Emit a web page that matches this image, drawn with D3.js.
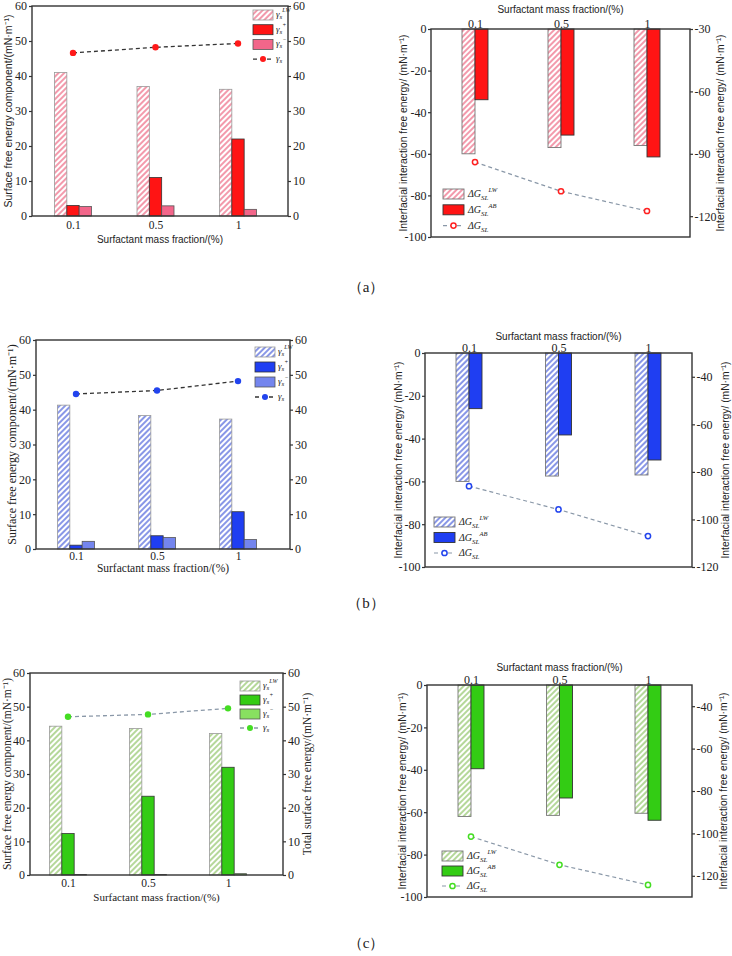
<!DOCTYPE html>
<html><head><meta charset="utf-8">
<script src="https://cdn.jsdelivr.net/npm/d3@7"></script>
<style>body{margin:0;background:#fff} svg{display:block}</style>
</head><body>
<script>
// ---------- data ----------
const categories = ["0.1", "0.5", "1"];
// (a)
const aLW = [41, 37, 36.2];
const aPlus = [3, 11, 22];
const aMinus = [2.7, 2.9, 1.9];
const aTotal = [46.6, 48.2, 49.3];
const aGLW = [-60, -57, -56];
const aGAB = [-34, -51, -61.5];
const aGSL = [-94, -108, -117.5];
// (b)
const bLW = [41.3, 38.3, 37.3];
const bPlus = [1.1, 3.8, 10.7];
const bMinus = [2.2, 3.3, 2.7];
const bTotal = [44.5, 45.5, 48.2];
const bGLW = [-60, -57.5, -57];
const bGAB = [-26, -38.3, -50];
const bGSL = [-86, -95.8, -107];
// (c)
const cLW = [44.2, 43.5, 42];
const cPlus = [12.3, 23.4, 32];
const cMinus = [0.15, 0.15, 0.4];
const cTotal = [47, 47.7, 49.5];
const cGLW = [-62, -61.5, -60.5];
const cGAB = [-39.5, -53.3, -63.8];
const cGSL = [-101.5, -114.8, -124.3];
// ticks
const compTicks = [0, 10, 20, 30, 40, 50, 60];
const gLeftTicks = [0, -20, -40, -60, -80, -100];
const gRightTicksA = [-30, -60, -90, -120];
const gRightTicksBC = [-40, -60, -80, -100, -120];
const captions = ["（a）", "（b）", "（c）"];
const xTitle = "Surfactant mass fraction/(%)";
const compTitle = "Surface free energy component/(mN·m⁻¹)";
const totalTitle = "Total surface free energy/(mN·m⁻¹)";
const gTitle = "Interfacial interaction free energy/ (mN·m⁻¹)";

// ---------- drawing ----------
const SERIF = "'Liberation Serif','Times New Roman',serif";
const SANS = "'Liberation Sans',Arial,sans-serif";
const fmt = d => String(d);
const svg = d3.select("body").append("svg").attr("width", 732).attr("height", 956);
const defs = svg.append("defs");
function hatch(id, color) {
  const p = defs.append("pattern").attr("id", id).attr("patternUnits", "userSpaceOnUse")
    .attr("width", 4).attr("height", 4).attr("patternTransform", "rotate(45)");
  p.append("rect").attr("width", 4).attr("height", 4).attr("fill", "#fff");
  p.append("line").attr("x1", 1).attr("y1", 0).attr("x2", 1).attr("y2", 4)
    .attr("stroke", color).attr("stroke-width", 1.5);
}
hatch("hA", "#f07890");
hatch("hB", "#6274e0");
hatch("hC", "#9ccc78");

function styleAxis(sel, size) {
  sel.attr("font-family", SERIF);
  sel.select(".domain").remove();
  sel.selectAll(".tick line").attr("stroke", "#333").attr("stroke-width", 1.2);
  sel.selectAll(".tick text").attr("font-family", SERIF).attr("font-size", size || 12).attr("fill", "#222");
}

function gammaLabel(t, sup) {
  t.append("tspan").text("γ").attr("font-style", "italic");
  t.append("tspan").text("s").attr("font-style", "italic").attr("font-size", 7).attr("dy", 2);
  if (sup) t.append("tspan").text(sup).attr("font-style", "italic").attr("font-size", 6).attr("dy", -7);
}
function dGLabel(t, sup) {
  t.append("tspan").text("ΔG").attr("font-style", "italic");
  t.append("tspan").text("SL").attr("font-style", "italic").attr("font-size", 7).attr("dy", 3);
  if (sup) t.append("tspan").text(sup).attr("font-style", "italic").attr("font-size", 6.5).attr("dy", -8);
}

function leftPanel(o) {
  const [x0, y0, x1, y1] = o.box;
  const g = svg.append("g");
  const x = d3.scalePoint().domain(categories).range(o.catRange);
  const y = d3.scaleLinear().domain([0, 60]).range([y1, y0]);
  const sub = d3.scaleBand().domain(["lw", "plus", "minus"]).range([-18.5, 18.5]);
  const series = [
    { key: "lw", vals: o.lw, fill: `url(#${o.hatch})`, stroke: "#999" },
    { key: "plus", vals: o.plus, fill: o.plusColor, stroke: "#333" },
    { key: "minus", vals: o.minus, fill: o.minusColor, stroke: "#555" }
  ];
  series.forEach(s => {
    g.selectAll(null).data(categories).enter().append("rect")
      .attr("x", c => x(c) + sub(s.key))
      .attr("width", sub.bandwidth())
      .attr("y", (c, i) => y(s.vals[i]))
      .attr("height", (c, i) => y(0) - y(s.vals[i]))
      .attr("fill", s.fill).attr("stroke", s.stroke).attr("stroke-width", 0.8);
  });
  // frame
  g.append("rect").attr("x", x0).attr("y", y0).attr("width", x1 - x0).attr("height", y1 - y0)
    .attr("fill", "none").attr("stroke", "#333").attr("stroke-width", 1.4);
  styleAxis(g.append("g").attr("transform", `translate(${x0},0)`)
    .call(d3.axisLeft(y).tickValues(compTicks).tickFormat(fmt).tickSize(3).tickPadding(2)), 12);
  styleAxis(g.append("g").attr("transform", `translate(${x1},0)`)
    .call(d3.axisRight(y).tickValues(compTicks).tickFormat(fmt).tickSize(3).tickPadding(2)), 12);
  styleAxis(g.append("g").attr("transform", `translate(0,${y1})`)
    .call(d3.axisBottom(x).tickSize(0).tickPadding(o.xTickPad)), 11.5);
  // total line
  const line = d3.line().x((d, i) => x(categories[i])).y(d => y(d));
  g.append("path").datum(o.total).attr("d", line).attr("fill", "none")
    .attr("stroke", o.lineColor).attr("stroke-width", 1.3).attr("stroke-dasharray", "4,3");
  g.selectAll(null).data(o.total).enter().append("circle")
    .attr("cx", (d, i) => x(categories[i])).attr("cy", d => y(d)).attr("r", 3.2).attr("fill", o.pointColor);
  // titles
  const ff = o.titleFont;
  g.append("text").attr("transform", `translate(${o.yTitleX},${(y0 + y1) / 2}) rotate(-90)`)
    .attr("text-anchor", "middle").attr("font-family", ff).attr("font-size", o.titleSize).attr("fill", "#222")
    .text(compTitle);
  g.append("text").attr("x", (x0 + x1) / 2).attr("y", y1 + o.xTitleDy).attr("text-anchor", "middle")
    .attr("font-family", ff).attr("font-size", o.xTitleSize).attr("fill", "#222").text(xTitle);
  if (o.rightTitle) {
    g.append("text").attr("transform", `translate(${o.rightTitleX},${(y0 + y1) / 2}) rotate(-90)`)
      .attr("text-anchor", "middle").attr("font-family", ff).attr("font-size", o.titleSize).attr("fill", "#222")
      .text(o.rightTitle);
  }
  // legend
  const [lx, ly, ls] = o.legend;
  const lg = g.append("g").attr("font-family", SERIF).attr("font-size", 9).attr("fill", "#222");
  series.forEach((s, i) => {
    lg.append("rect").attr("x", lx).attr("y", ly + i * ls - 5).attr("width", 20).attr("height", 10)
      .attr("fill", s.fill).attr("stroke", s.stroke).attr("stroke-width", 0.8);
    const t = lg.append("text").attr("x", lx + 23).attr("y", ly + i * ls + 2);
    gammaLabel(t, ["LW", "+", "−"][i]);
  });
  const ry = ly + 3 * ls;
  lg.append("line").attr("x1", lx).attr("x2", lx + 20).attr("y1", ry).attr("y2", ry)
    .attr("stroke", o.lineColor).attr("stroke-width", 1.3).attr("stroke-dasharray", "4,3");
  lg.append("circle").attr("cx", lx + 10).attr("cy", ry).attr("r", 3).attr("fill", o.pointColor);
  gammaLabel(lg.append("text").attr("x", lx + 23).attr("y", ry + 2), null);
}

function rightPanel(o) {
  const [x0, y0, x1, y1] = o.box;
  const g = svg.append("g");
  const x = d3.scalePoint().domain(categories).range(o.catRange);
  const y = d3.scaleLinear().domain([-100, 0]).range([y1, y0]);
  const y2 = d3.scaleLinear().domain(o.rightDomain).range([y1, y0]);
  const sub = d3.scaleBand().domain(["lw", "ab"]).range([-13, 13]);
  const series = [
    { key: "lw", vals: o.lw, fill: `url(#${o.hatch})`, stroke: "#777" },
    { key: "ab", vals: o.ab, fill: o.abColor, stroke: "#333" }
  ];
  series.forEach(s => {
    g.selectAll(null).data(categories).enter().append("rect")
      .attr("x", c => x(c) + sub(s.key))
      .attr("width", sub.bandwidth())
      .attr("y", y(0))
      .attr("height", (c, i) => y(s.vals[i]) - y(0))
      .attr("fill", s.fill).attr("stroke", s.stroke).attr("stroke-width", 0.9);
  });
  g.append("rect").attr("x", x0).attr("y", y0).attr("width", x1 - x0).attr("height", y1 - y0)
    .attr("fill", "none").attr("stroke", "#333").attr("stroke-width", 1.4);
  styleAxis(g.append("g").attr("transform", `translate(${x0},0)`)
    .call(d3.axisLeft(y).tickValues(gLeftTicks).tickFormat(fmt).tickSize(3).tickPadding(1.5)), 12);
  styleAxis(g.append("g").attr("transform", `translate(${x1},0)`)
    .call(d3.axisRight(y2).tickValues(o.rightTicks).tickFormat(fmt).tickSize(3).tickPadding(1.5)), 12);
  styleAxis(g.append("g").attr("transform", `translate(0,${y0})`)
    .call(d3.axisTop(x).tickSize(0).tickPadding(1.5)), 12);
  // total line (right axis)
  const line = d3.line().x((d, i) => x(categories[i])).y(d => y2(d));
  g.append("path").datum(o.total).attr("d", line).attr("fill", "none")
    .attr("stroke", "#8a98a8").attr("stroke-width", 1.2).attr("stroke-dasharray", "4,3");
  g.selectAll(null).data(o.total).enter().append("circle")
    .attr("cx", (d, i) => x(categories[i])).attr("cy", d => y2(d)).attr("r", 2.6)
    .attr("fill", "#fff").attr("stroke", o.pointColor).attr("stroke-width", 1.5);
  // titles
  g.append("text").attr("x", (x0 + x1) / 2).attr("y", y0 - o.topTitleDy).attr("text-anchor", "middle")
    .attr("font-family", SANS).attr("font-size", 10).attr("fill", "#222").text(xTitle);
  [o.yTitleX, o.rightTitleX].forEach(tx => {
    g.append("text").attr("transform", `translate(${tx},${(y0 + y1) / 2}) rotate(-90)`)
      .attr("text-anchor", "middle").attr("font-family", SANS).attr("font-size", 10.3).attr("fill", "#222")
      .text(gTitle);
  });
  // legend
  const [lx, ly, ls] = o.legend;
  const lg = g.append("g").attr("font-family", SERIF).attr("font-size", 10).attr("fill", "#222");
  series.forEach((s, i) => {
    lg.append("rect").attr("x", lx).attr("y", ly + i * ls - 5).attr("width", 21).attr("height", 10)
      .attr("fill", s.fill).attr("stroke", s.stroke).attr("stroke-width", 0.9);
    dGLabel(lg.append("text").attr("x", lx + 25).attr("y", ly + i * ls + 3), ["LW", "AB"][i]);
  });
  const ry = ly + 2 * ls;
  lg.append("line").attr("x1", lx).attr("x2", lx + 21).attr("y1", ry).attr("y2", ry)
    .attr("stroke", "#8a98a8").attr("stroke-width", 1.2).attr("stroke-dasharray", "4,3");
  lg.append("circle").attr("cx", lx + 10.5).attr("cy", ry).attr("r", 2.6)
    .attr("fill", "#fff").attr("stroke", o.pointColor).attr("stroke-width", 1.5);
  dGLabel(lg.append("text").attr("x", lx + 25).attr("y", ry + 3), null);
}

// (a)
leftPanel({ box: [32, 6, 288, 216], catRange: [73, 238], lw: aLW, plus: aPlus, minus: aMinus, total: aTotal,
  hatch: "hA", plusColor: "#ff1414", minusColor: "#f2668a", pointColor: "#ff1a1a", lineColor: "#333",
  titleFont: SANS, titleSize: 10.5, xTitleSize: 10, yTitleX: 12, xTitleDy: 27, xTickPad: 5, legend: [253, 15, 14.7] });
rightPanel({ box: [431, 29, 690, 237], catRange: [475, 647], lw: aGLW, ab: aGAB, total: aGSL,
  rightDomain: [-130, -30], rightTicks: gRightTicksA, hatch: "hA", abColor: "#ff1414", pointColor: "#ff2020",
  topTitleDy: 16, yTitleX: 407, rightTitleX: 724, legend: [443, 194, 15.8] });
// (b)
leftPanel({ box: [36, 340, 290, 549], catRange: [76, 238], lw: bLW, plus: bPlus, minus: bMinus, total: bTotal,
  hatch: "hB", plusColor: "#1f3ef2", minusColor: "#7485ee", pointColor: "#2244ee", lineColor: "#333",
  titleFont: SERIF, titleSize: 12, xTitleSize: 11.5, yTitleX: 16, xTitleDy: 23, xTickPad: 3, legend: [255, 352, 15] });
rightPanel({ box: [425, 353, 692, 567], catRange: [469, 648], lw: bGLW, ab: bGAB, total: bGSL,
  rightDomain: [-120, -30], rightTicks: gRightTicksBC, hatch: "hB", abColor: "#1f3ef2", pointColor: "#2244ee",
  topTitleDy: 13, yTitleX: 402, rightTitleX: 729, legend: [434, 522, 15.5] });
// (c)
leftPanel({ box: [30, 673, 283, 875], catRange: [68, 228], lw: cLW, plus: cPlus, minus: cMinus, total: cTotal,
  hatch: "hC", plusColor: "#33cc14", minusColor: "#88e060", pointColor: "#44dd22", lineColor: "#8a98a8",
  titleFont: SERIF, titleSize: 11.5, xTitleSize: 11, xTitleDy: 26, xTickPad: 4, rightTitle: totalTitle,
  yTitleX: 11, rightTitleX: 311, legend: [240, 686, 14] });
rightPanel({ box: [427, 685, 692, 897], catRange: [471, 648], lw: cGLW, ab: cGAB, total: cGSL,
  rightDomain: [-130, -30], rightTicks: gRightTicksBC, hatch: "hC", abColor: "#33cc14", pointColor: "#44dd22",
  topTitleDy: 14, yTitleX: 406, rightTitleX: 727, legend: [442, 856, 15] });

// captions
[287, 603, 943].forEach((cy, i) => {
  svg.append("text").attr("x", 366).attr("y", cy + 5).attr("text-anchor", "middle")
    .attr("font-family", SERIF).attr("font-size", 15).attr("fill", "#222").text(captions[i]);
});
</script>
</body></html>
